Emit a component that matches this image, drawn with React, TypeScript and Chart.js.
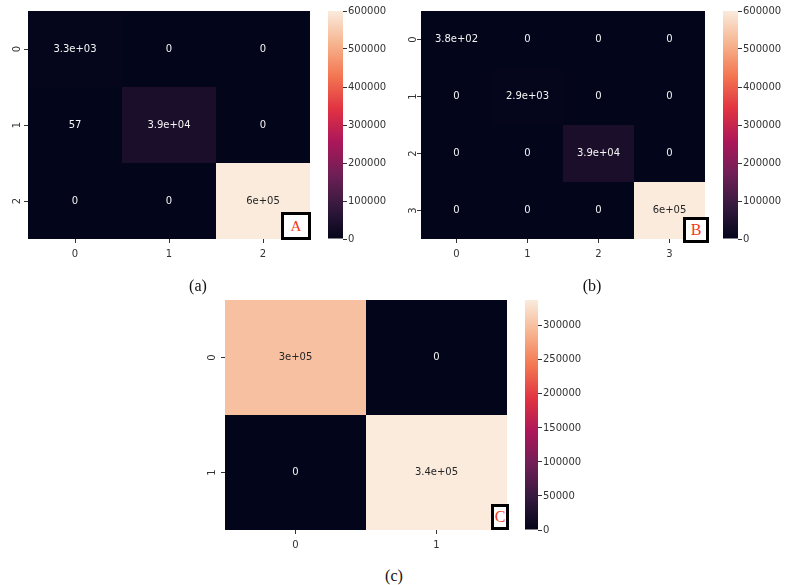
import React, { useEffect, useRef } from 'react';
import { Chart, registerables } from 'chart.js';

Chart.register(...registerables);

// ---------- data ----------
const labelsA = ['0', '1', '2'];
const rowA0 = [3300, 0, 0];
const rowA1 = [57, 39000, 0];
const rowA2 = [0, 0, 600000];
const vmaxA = 600000;

const labelsB = ['0', '1', '2', '3'];
const rowB0 = [380, 0, 0, 0];
const rowB1 = [0, 2900, 0, 0];
const rowB2 = [0, 0, 39000, 0];
const rowB3 = [0, 0, 0, 600000];
const vmaxB = 600000;

const labelsC = ['0', '1'];
const rowC0 = [300000, 0];
const rowC1 = [0, 338000];
const vmaxC = 338000;

const cbarTicksAB = [0, 100000, 200000, 300000, 400000, 500000, 600000];
const cbarTicksC = [0, 50000, 100000, 150000, 200000, 250000, 300000];

const captions = ['(a)', '(b)', '(c)'];
const boxLetters = ['A', 'B', 'C'];

// ---------- style ----------
const ROCKET: [number, number[]][] = [
  [0.0, [3, 5, 26]],
  [0.143, [53, 25, 62]],
  [0.286, [112, 31, 87]],
  [0.429, [173, 23, 89]],
  [0.571, [225, 51, 66]],
  [0.714, [243, 118, 81]],
  [0.857, [246, 180, 143]],
  [1.0, [250, 235, 221]],
];

function cmap(t: number): number[] {
  const x = Math.max(0, Math.min(1, t));
  for (let i = 1; i < ROCKET.length; i++) {
    const [p1, c1] = ROCKET[i];
    const [p0, c0] = ROCKET[i - 1];
    if (x <= p1) {
      const f = (x - p0) / (p1 - p0);
      return [0, 1, 2].map((k) => Math.round(c0[k] + (c1[k] - c0[k]) * f));
    }
  }
  return ROCKET[ROCKET.length - 1][1];
}
const rgb = (c: number[]) => `rgb(${c[0]},${c[1]},${c[2]})`;
function lum(c: number[]) {
  const f = (v: number) => {
    const s = v / 255;
    return s <= 0.03928 ? s / 12.92 : Math.pow((s + 0.055) / 1.055, 2.4);
  };
  return 0.2126 * f(c[0]) + 0.7152 * f(c[1]) + 0.0722 * f(c[2]);
}

function fmt2g(v: number): string {
  if (v === 0) return '0';
  const e = Math.floor(Math.log10(Math.abs(v)));
  if (e < -4 || e >= 2) {
    const parts = v.toExponential(1).split('e');
    const m = parts[0].replace(/\.?0+$/, '');
    const n = parseInt(parts[1], 10);
    return m + 'e' + (n < 0 ? '-' : '+') + String(Math.abs(n)).padStart(2, '0');
  }
  return String(Number(v.toPrecision(2)));
}

const FONT = 'DejaVu Sans';
const TICK_COLOR = '#333333';

const annotPlugin = {
  id: 'annot',
  afterDatasetsDraw(chart: any) {
    const ctx = chart.ctx;
    ctx.save();
    ctx.font = `10px "${FONT}"`;
    ctx.textAlign = 'center';
    ctx.textBaseline = 'middle';
    chart.data.datasets.forEach((ds: any, i: number) => {
      const meta = chart.getDatasetMeta(i);
      meta.data.forEach((el: any, j: number) => {
        const v = ds.values[j];
        const c = cmap(v / ds.vmax);
        ctx.fillStyle = lum(c) > 0.408 ? '#262626' : '#f4f4f4';
        const p = el.getProps(['x', 'y', 'base'], true);
        ctx.fillText(fmt2g(v), p.x, (p.y + p.base) / 2);
      });
    });
    ctx.restore();
  },
};

type Box = { left: number; top: number; width: number; height: number };
type Area = { l: number; t: number; r: number; b: number };

function Heatmap(props: { rows: number[][]; labels: string[]; vmax: number; box: Box; area: Area; ypad: number; xpad: number }) {
  const ref = useRef<HTMLCanvasElement>(null);
  useEffect(() => {
    const { rows, labels, vmax, box, area, ypad, xpad } = props;
    const n = rows.length;
    const yw = area.l - box.left;
    const xh = box.top + box.height - area.b;
    const padTop = area.t - box.top;
    const padRight = box.left + box.width - area.r;
    const chart = new Chart(ref.current!, {
      type: 'bar',
      data: {
        labels,
        datasets: rows.map((row, i) => ({
          data: row.map(() => [i - 0.5, i + 0.5]),
          values: row,
          vmax,
          backgroundColor: row.map((v) => rgb(cmap(v / vmax))),
          borderWidth: 0,
          barPercentage: 1,
          categoryPercentage: 1,
          grouped: false,
          inflateAmount: 0,
        })) as any,
      },
      options: {
        responsive: false,
        animation: false,
        events: [],
        layout: { padding: { top: padTop, right: padRight, left: 0, bottom: 0 } },
        plugins: { legend: { display: false }, tooltip: { enabled: false } },
        scales: {
          x: {
            type: 'category',
            grid: { display: true, drawOnChartArea: false, drawTicks: true, tickLength: 4, color: TICK_COLOR, offset: false },
            border: { display: false },
            ticks: { font: { family: FONT, size: 10 }, color: TICK_COLOR, padding: xpad, maxRotation: 0, minRotation: 0 },
            afterFit: (s: any) => {
              s.height = xh;
              s.paddingLeft = 0;
              s.paddingRight = 0;
            },
          },
          y: {
            type: 'linear',
            reverse: true,
            min: -0.5,
            max: n - 0.5,
            afterBuildTicks: (s: any) => {
              s.ticks = rows.map((_, i) => ({ value: i }));
            },
            grid: { display: true, drawOnChartArea: false, drawTicks: true, tickLength: 4, color: TICK_COLOR },
            border: { display: false },
            ticks: {
              font: { family: FONT, size: 10 },
              color: TICK_COLOR,
              padding: ypad,
              minRotation: 90,
              maxRotation: 90,
              crossAlign: 'center',
              callback: (v: any) => labels[Math.round(Number(v))],
            },
            afterFit: (s: any) => {
              s.width = yw;
              s.paddingTop = 0;
              s.paddingBottom = 0;
            },
          },
        },
      } as any,
      plugins: [annotPlugin],
    });
    return () => chart.destroy();
  }, []);
  const { box } = props;
  return (
    <canvas
      ref={ref}
      width={box.width}
      height={box.height}
      style={{ position: 'absolute', left: box.left, top: box.top, width: box.width, height: box.height }}
    />
  );
}

function Colorbar(props: { vmax: number; ticks: number[]; box: Box; area: Area; pad: number }) {
  const ref = useRef<HTMLCanvasElement>(null);
  useEffect(() => {
    const { vmax, ticks, box, area, pad } = props;
    const yw = box.left + box.width - area.r;
    const chart = new Chart(ref.current!, {
      type: 'bar',
      data: {
        labels: [''],
        datasets: [
          {
            data: [[0, vmax]] as any,
            backgroundColor: (c: any) => {
              const ch = c.chart;
              const a = ch.chartArea;
              if (!a) return rgb(cmap(0));
              const g = ch.ctx.createLinearGradient(0, a.bottom, 0, a.top);
              ROCKET.forEach(([p, col]) => g.addColorStop(p, rgb(col)));
              return g;
            },
            borderWidth: 0,
            barPercentage: 1,
            categoryPercentage: 1,
            inflateAmount: 0,
          } as any,
        ],
      },
      options: {
        responsive: false,
        animation: false,
        events: [],
        layout: {
          padding: {
            left: area.l - box.left,
            top: area.t - box.top,
            bottom: box.top + box.height - area.b,
            right: 0,
          },
        },
        plugins: { legend: { display: false }, tooltip: { enabled: false } },
        scales: {
          x: { display: false },
          y: {
            type: 'linear',
            position: 'right',
            min: 0,
            max: vmax,
            afterBuildTicks: (s: any) => {
              s.ticks = ticks.map((v) => ({ value: v }));
            },
            grid: { display: true, drawOnChartArea: false, drawTicks: true, tickLength: 4, color: TICK_COLOR },
            border: { display: false },
            ticks: {
              font: { family: FONT, size: 10 },
              color: TICK_COLOR,
              padding: pad,
              callback: (v: any) => String(v),
            },
            afterFit: (s: any) => {
              s.width = yw;
              s.paddingTop = 0;
              s.paddingBottom = 0;
            },
          },
        },
      } as any,
    });
    return () => chart.destroy();
  }, []);
  const { box } = props;
  return (
    <canvas
      ref={ref}
      width={box.width}
      height={box.height}
      style={{ position: 'absolute', left: box.left, top: box.top, width: box.width, height: box.height }}
    />
  );
}

function Caption(props: { text: string; cx: number; cy: number }) {
  return (
    <div
      style={{
        position: 'absolute',
        left: props.cx - 40,
        top: props.cy - 9,
        width: 80,
        height: 18,
        lineHeight: '18px',
        textAlign: 'center',
        fontFamily: '"Liberation Serif", serif',
        fontSize: 16,
        color: '#111',
      }}
    >
      {props.text}
    </div>
  );
}

function Tag(props: { text: string; left: number; top: number; width: number; height: number; size: number }) {
  return (
    <div
      style={{
        position: 'absolute',
        left: props.left,
        top: props.top,
        width: props.width,
        height: props.height,
        boxSizing: 'border-box',
        border: '3px solid #000',
        background: '#fff',
        display: 'flex',
        alignItems: 'center',
        justifyContent: 'center',
        fontFamily: '"Liberation Serif", serif',
        fontSize: props.size,
        color: '#f23b22',
        lineHeight: 1,
      }}
    >
      {props.text}
    </div>
  );
}

export default function App() {
  return (
    <div style={{ position: 'absolute', left: 0, top: 0, width: 788, height: 585, background: '#fff', overflow: 'hidden' }}>
      <Heatmap
        rows={[rowA0, rowA1, rowA2]}
        labels={labelsA}
        vmax={vmaxA}
        box={{ left: 0, top: 0, width: 318, height: 268 }}
        area={{ l: 28, t: 11, r: 310, b: 239 }}
        ypad={3.5}
        xpad={5.5}
      />
      <Colorbar
        vmax={vmaxA}
        ticks={cbarTicksAB}
        box={{ left: 320, top: 0, width: 70, height: 250 }}
        area={{ l: 328, t: 11, r: 343, b: 239 }}
        pad={1}
      />
      <Heatmap
        rows={[rowB0, rowB1, rowB2, rowB3]}
        labels={labelsB}
        vmax={vmaxB}
        box={{ left: 391, top: 0, width: 318, height: 268 }}
        area={{ l: 421, t: 11, r: 705, b: 239 }}
        ypad={0}
        xpad={5.5}
      />
      <Colorbar
        vmax={vmaxB}
        ticks={cbarTicksAB}
        box={{ left: 715, top: 0, width: 73, height: 250 }}
        area={{ l: 723, t: 11, r: 738, b: 239 }}
        pad={1}
      />
      <Heatmap
        rows={[rowC0, rowC1]}
        labels={labelsC}
        vmax={vmaxC}
        box={{ left: 195, top: 290, width: 318, height: 270 }}
        area={{ l: 225, t: 300, r: 507, b: 530 }}
        ypad={5}
        xpad={5}
      />
      <Colorbar
        vmax={vmaxC}
        ticks={cbarTicksC}
        box={{ left: 517, top: 290, width: 80, height: 250 }}
        area={{ l: 525, t: 300, r: 538, b: 530 }}
        pad={1}
      />
      <Caption text={captions[0]} cx={198} cy={286} />
      <Caption text={captions[1]} cx={592} cy={286} />
      <Caption text={captions[2]} cx={394} cy={576} />
      <Tag text={boxLetters[0]} left={281} top={212} width={30} height={28} size={15} />
      <Tag text={boxLetters[1]} left={683} top={217} width={26} height={26} size={16} />
      <Tag text={boxLetters[2]} left={491} top={504} width={18} height={26} size={16} />
    </div>
  );
}
